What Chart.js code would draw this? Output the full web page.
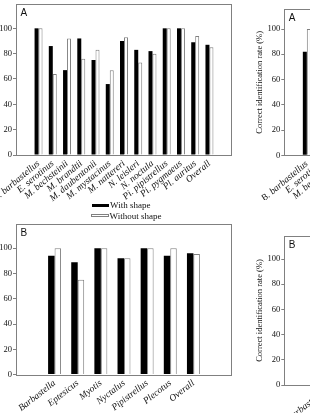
<!DOCTYPE html>
<html><head><meta charset="utf-8">
<script src="https://cdn.jsdelivr.net/npm/chart.js@4/dist/chart.umd.min.js"></script>
<style>
html,body{margin:0;padding:0;background:#fff;}
#wrap{position:relative;width:310px;height:413px;overflow:hidden;background:#fff;}
canvas{position:absolute;}
</style></head><body>
<div id="wrap">
<canvas id="cA" width="234" height="222" style="left:0;top:0"></canvas>
<canvas id="cB" width="234" height="193" style="left:0;top:220px"></canvas>
<canvas id="cRA" width="252" height="200" style="left:250px;top:0"></canvas>
<canvas id="cRB" width="252" height="193" style="left:250px;top:220px"></canvas>
</div>
<script>
// ---- data ----
const speciesA = ['B. barbastellus','E. serotinus','M. bechsteinii','M. brandtii','M. daubentonii','M. mystacinus','M. nattereri','N. leisleri','N. noctula','Pi. pipistrellus','Pi. pygmaeus','Pl. auritus','Overall'];
const withShapeA    = [100, 86, 67, 92, 75, 56, 90, 83, 82, 100, 100, 89, 87];
const withoutShapeA = [100, 64, 92, 76, 83, 67, 93, 73, 80, 100, 100, 94, 85];
const generaB = ['Barbastella','Eptesicus','Myotis','Nyctalus','Pipistrellus','Plecotus','Overall'];
const withShapeB    = [94, 89, 100, 92, 100, 94, 96];
const withoutShapeB = [100, 75, 100, 92, 100, 100, 95.5];
// right-hand (cropped) panels: only the first values are visible
const rightWithA    = [82];
const rightWithoutA = [100];
const rightWithB    = [81];
const rightWithoutB = [];
const yTicks = [0, 20, 40, 60, 80, 100];
const seriesNames = ['With shape', 'Without shape'];
const yTitle = 'Correct identification rate (%)';

const GRAY = '#808080';
const SERIF = '"Liberation Serif", "Times New Roman", serif';

const frame = {
  id: 'frame',
  afterDatasetsDraw(chart, args, o) {
    const {ctx, chartArea: a} = chart;
    ctx.save();
    ctx.strokeStyle = GRAY; ctx.lineWidth = 1;
    const l = Math.round(a.left), t = Math.round(a.top), r = Math.round(a.right), b = Math.round(a.bottom);
    ctx.strokeRect(l + 0.5, t + 0.5, r - l - 1, b - t);
    if (o.letter) {
      ctx.fillStyle = '#111';
      ctx.font = '10px "Liberation Sans", Arial, sans-serif';
      ctx.textBaseline = 'alphabetic'; ctx.textAlign = 'left';
      ctx.fillText(o.letter, a.left + 4.5, a.top + 12);
    }
    if (o.legend) {
      ctx.fillStyle = '#000';
      ctx.fillRect(92, 204, 17, 3);
      ctx.fillStyle = '#fff';
      ctx.fillRect(91, 214, 18, 3);
      ctx.strokeStyle = GRAY;
      ctx.strokeRect(91.5, 214.5, 17, 2);
      ctx.fillStyle = '#111';
      ctx.font = '9px ' + SERIF;
      ctx.fillText(seriesNames[0], 110, 208);
      ctx.fillText(seriesNames[1], 109.5, 218.5);
    }
    ctx.restore();
  }
};

function build(id, cats, w, wo, o) {
  const mk = arr => cats.map((c, i) => ({x: i, y: (arr[i] === undefined ? null : arr[i])}));
  return new Chart(document.getElementById(id), {
    type: 'bar',
    data: {
      datasets: [
        {label: seriesNames[0], data: mk(w), backgroundColor: '#000', borderWidth: 0,
         categoryPercentage: 0.56, barPercentage: 1},
        {label: seriesNames[1], data: mk(wo), backgroundColor: '#fff', borderColor: GRAY, borderWidth: 1,
         categoryPercentage: 0.56, barPercentage: 1}
      ]
    },
    options: {
      responsive: false, animation: false, devicePixelRatio: 1,
      layout: {padding: {left: o.padL, top: o.padT, right: 2, bottom: 0}},
      plugins: {legend: {display: false}, tooltip: {enabled: false},
                frame: {letter: o.letter, legend: o.legend}},
      scales: {
        x: {
          type: 'linear', min: -1, max: cats.length,
          afterBuildTicks: s => { s.ticks = cats.map((c, i) => ({value: i})); },
          afterFit: s => { s.height = o.xH; s.paddingLeft = 0; s.paddingRight = 0; },
          grid: {display: false, drawTicks: false},
          border: {display: false},
          ticks: {autoSkip: false, minRotation: o.rot, maxRotation: o.rot, padding: 3, color: '#111',
                  font: {family: SERIF, size: 9.5, style: 'italic'},
                  callback: v => (cats[v] !== undefined ? cats[v] : '')}
        },
        y: {
          min: 0, max: o.yMax,
          afterBuildTicks: s => { s.ticks = yTicks.map(v => ({value: v})); },
          afterFit: s => { s.width = o.yW; s.paddingTop = 0; s.paddingBottom = 0; },
          grid: {drawOnChartArea: false, drawTicks: true, tickLength: 3, color: GRAY},
          border: {display: false},
          ticks: {padding: 1, color: '#111', font: {family: SERIF, size: 8.5}},
          title: {display: !!o.title, text: yTitle, padding: 0, color: '#111',
                  font: {family: SERIF, size: 8.5}}
        }
      }
    },
    plugins: [frame]
  });
}

build('cA', speciesA, withShapeA, withoutShapeA,
      {padL: 0, padT: 4, xH: 67, yW: 16, yMax: 119.2, letter: 'A', legend: true, rot: 40});
build('cB', generaB, withShapeB, withoutShapeB,
      {padL: 0, padT: 4, xH: 38.4, yW: 16, yMax: 119.2, letter: 'B', rot: 38});
build('cRA', speciesA, rightWithA, rightWithoutA,
      {padL: 5, padT: 9.3, xH: 44.7, yW: 29.3, yMax: 115.6, letter: 'A', title: true, rot: 40});
build('cRB', generaB, rightWithB, rightWithoutB,
      {padL: 5, padT: 16, xH: 28, yW: 29.3, yMax: 118.3, letter: 'B', title: true, rot: 38});
</script>
</body></html>
